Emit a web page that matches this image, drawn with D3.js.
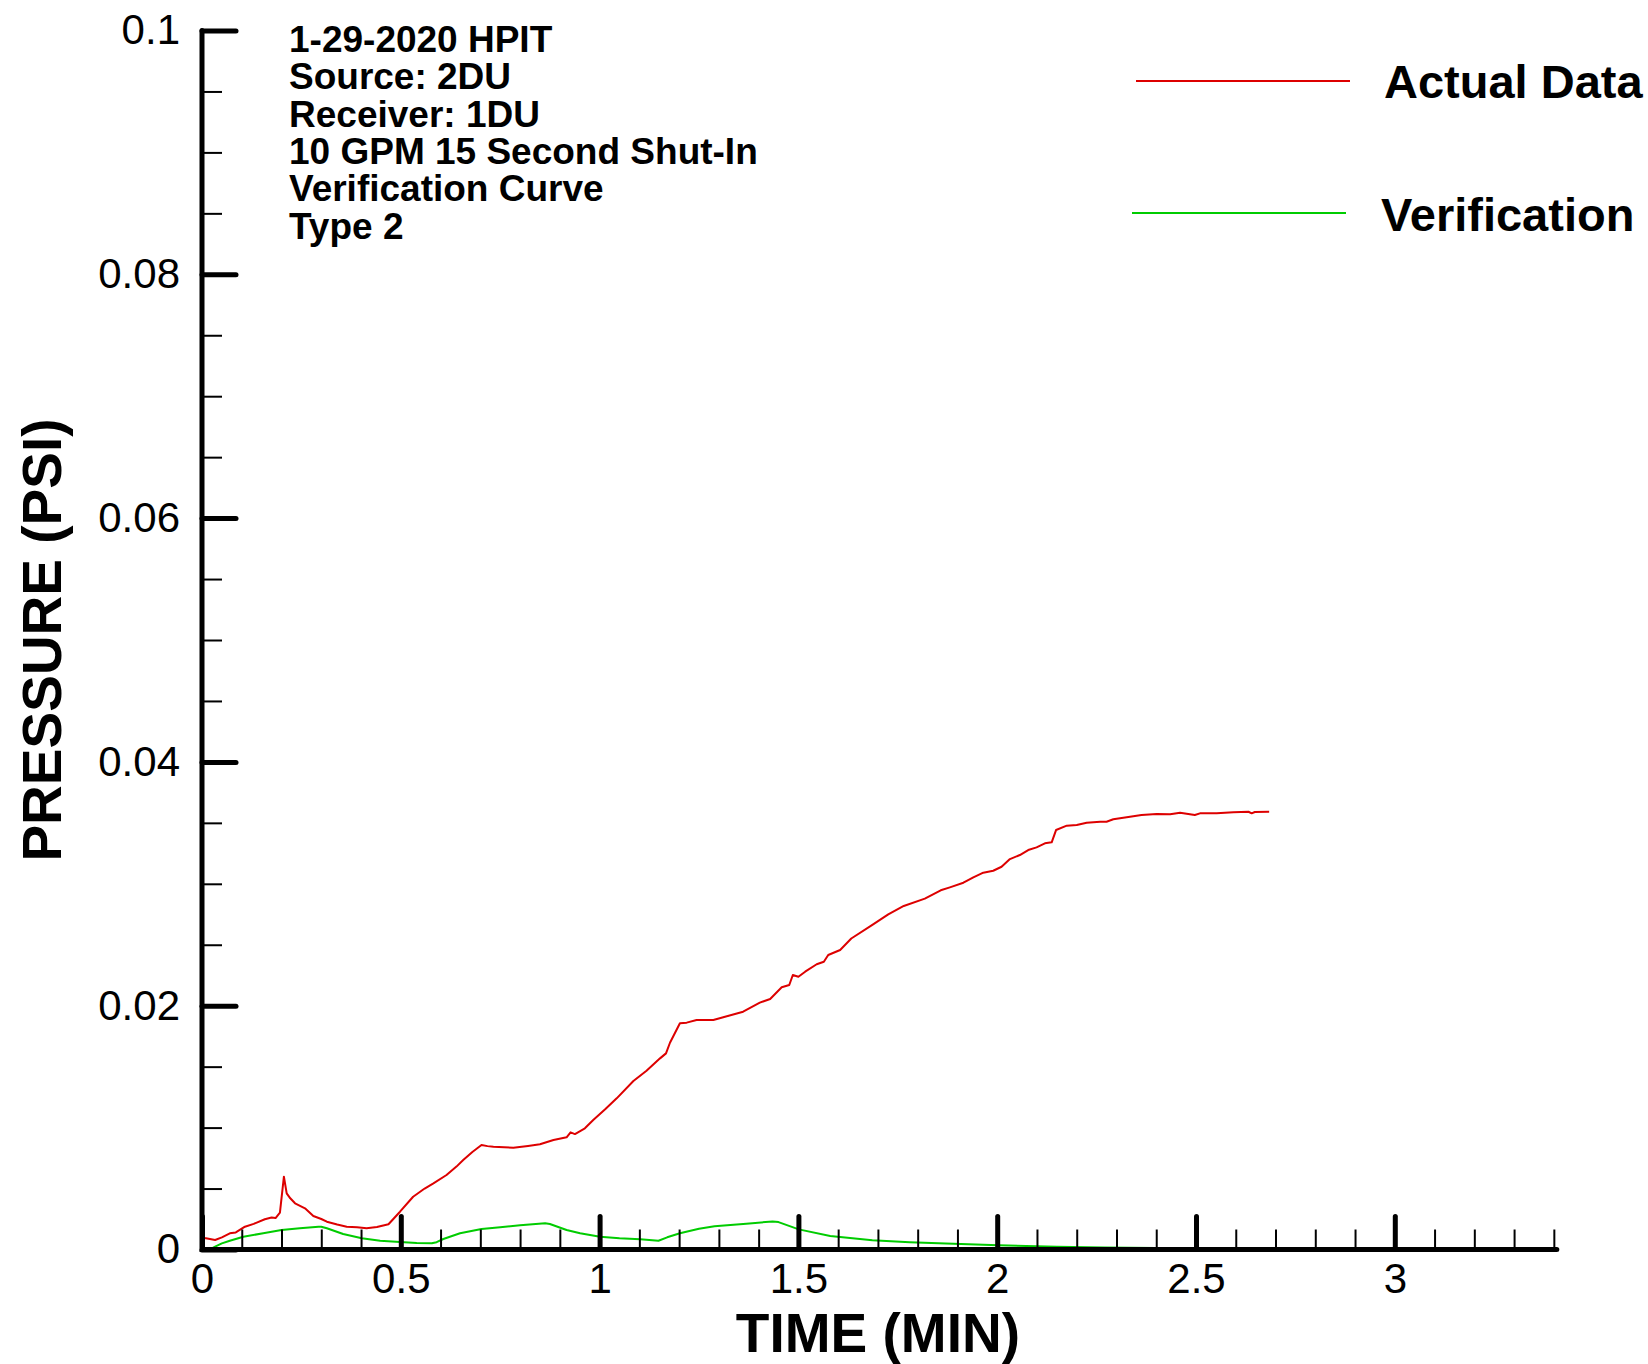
<!DOCTYPE html>
<html>
<head>
<meta charset="utf-8">
<style>
	body { margin: 0; background: #fff; }
	svg { display: block; }
	text { font-family: "Liberation Sans", Arial, sans-serif; fill: #000; }
	.axis-line { stroke: #000; stroke-width: 5; stroke-linecap: round; fill: none; }
	.major .tick line { stroke: #000; stroke-width: 5; stroke-linecap: round; }
	.minor .tick line { stroke: #000; stroke-width: 2; }
	.axis .tick text { font-size: 42px; }
	.series { fill: none; stroke-width: 2; stroke-linejoin: round; }
	.title { font-size: 55px; font-weight: bold; }
	.note { font-size: 37px; font-weight: bold; }
	.legend text { font-size: 47px; font-weight: bold; }
</style>
</head>
<body>
<div id="chart"></div>
<script src="https://cdn.jsdelivr.net/npm/d3@7"></script>
<script>

	// measured traces (time in minutes, pressure in psi)
	const actualTime = [
		0.000, 0.010, 0.033, 0.050, 0.070, 0.085, 0.108, 0.130, 0.158, 0.175,
		0.185, 0.196, 0.206, 0.213, 0.222, 0.234, 0.259, 0.280, 0.300, 0.314,
		0.340, 0.364, 0.390, 0.414, 0.440, 0.469, 0.498, 0.531, 0.560, 0.582,
		0.615, 0.640, 0.657, 0.680, 0.703, 0.718, 0.733, 0.760, 0.783, 0.820,
		0.850, 0.884, 0.917, 0.927, 0.938, 0.963, 0.984, 1.014, 1.043, 1.085,
		1.118, 1.152, 1.167, 1.177, 1.202, 1.219, 1.244, 1.286, 1.311, 1.361,
		1.403, 1.429, 1.458, 1.477, 1.486, 1.500, 1.517, 1.546, 1.564, 1.575,
		1.605, 1.633, 1.686, 1.726, 1.765, 1.818, 1.858, 1.881, 1.915, 1.940,
		1.965, 1.990, 2.011, 2.032, 2.057, 2.078, 2.099, 2.120, 2.137, 2.148,
		2.175, 2.200, 2.225, 2.259, 2.275, 2.292, 2.334, 2.363, 2.401, 2.435,
		2.460, 2.497, 2.510, 2.552, 2.594, 2.632, 2.640, 2.648, 2.684
	];
	const actualPsi = [
		0.00094, 0.00092, 0.00078, 0.00100, 0.00133, 0.00140, 0.00187, 0.00210, 0.00248, 0.00262,
		0.00258, 0.00302, 0.00597, 0.00461, 0.00420, 0.00379, 0.00338, 0.00275, 0.00250, 0.00228,
		0.00205, 0.00187, 0.00182, 0.00174, 0.00185, 0.00207, 0.00310, 0.00433, 0.00500, 0.00543,
		0.00611, 0.00680, 0.00734, 0.00800, 0.00857, 0.00848, 0.00843, 0.00838, 0.00835, 0.00850,
		0.00863, 0.00898, 0.00920, 0.00961, 0.00947, 0.00994, 0.01062, 0.01150, 0.01240, 0.01382,
		0.01467, 0.01568, 0.01609, 0.01696, 0.01856, 0.01861, 0.01883, 0.01883, 0.01905, 0.01951,
		0.02025, 0.02055, 0.02151, 0.02170, 0.02252, 0.02238, 0.02279, 0.02340, 0.02361, 0.02416,
		0.02457, 0.02551, 0.02663, 0.02749, 0.02818, 0.02878, 0.02947, 0.02971, 0.03009, 0.03053,
		0.03091, 0.03107, 0.03140, 0.03203, 0.03236, 0.03277, 0.03299, 0.03332, 0.03340, 0.03441,
		0.03477, 0.03482, 0.03501, 0.03509, 0.03509, 0.03529, 0.03550, 0.03564, 0.03573, 0.03570,
		0.03583, 0.03564, 0.03578, 0.03578, 0.03587, 0.03591, 0.03578, 0.03589, 0.03591
	];

	const verifTime = [
		0.020, 0.033, 0.050, 0.070, 0.104, 0.154, 0.200, 0.246, 0.293, 0.300,
		0.314, 0.355, 0.402, 0.448, 0.498, 0.540, 0.578, 0.590, 0.607, 0.649,
		0.703, 0.750, 0.800, 0.863, 0.875, 0.917, 0.951, 1.001, 1.050, 1.102,
		1.148, 1.170, 1.202, 1.250, 1.289, 1.369, 1.435, 1.450, 1.501, 1.580,
		1.686, 1.780, 1.871, 2.003, 2.150, 2.270, 2.400, 2.500, 2.600, 2.684
	];
	const verifPsi = [
		0.00000, 0.00023, 0.00050, 0.00072, 0.00105, 0.00133, 0.00160, 0.00174, 0.00187, 0.00187,
		0.00174, 0.00127, 0.00092, 0.00072, 0.00062, 0.00053, 0.00051, 0.00060, 0.00086, 0.00133,
		0.00168, 0.00182, 0.00199, 0.00215, 0.00209, 0.00160, 0.00133, 0.00105, 0.00092, 0.00084,
		0.00072, 0.00100, 0.00133, 0.00170, 0.00190, 0.00212, 0.00230, 0.00225, 0.00165, 0.00111,
		0.00076, 0.00060, 0.00050, 0.00035, 0.00023, 0.00017, 0.00012, 0.00010, 0.00007, 0.00005
	];

	const seriesNames = [ "Actual Data", "Verification" ];
	const seriesColors = [ "#dd0000", "#00cc00" ];

	const xMajorTicks = [ 0, 0.5, 1, 1.5, 2, 2.5, 3 ];
	const yMajorTicks = [ 0, 0.02, 0.04, 0.06, 0.08, 0.1 ];

	const noteLines = [
		"1-29-2020 HPIT",
		"Source: 2DU",
		"Receiver: 1DU",
		"10 GPM 15 Second Shut-In",
		"Verification Curve",
		"Type 2"
	];

	const width = 1648;
	const height = 1364;
	const majorTick = 34;
	const minorTick = 20;

	const x = d3.scaleLinear()
				.domain([0, 3.4])
				.range([202, 202 + 3.4 * 397.6]);

	const y = d3.scaleLinear()
				.domain([0, 0.1])
				.range([1249.5, 30.5]);

	const svg = d3.select("#chart")
				.append("svg")
					.attr("width", width)
					.attr("height", height);

	// series first so the thick axes sit on top
	const series = [
		actualTime.map((t, i) => [t, actualPsi[i]]),
		verifTime.map((t, i) => [t, verifPsi[i]])
	];

	const line = d3.line()
				.x((d) => x(d[0]))
				.y((d) => y(d[1]));

	svg.selectAll(".series")
			.data(series).enter()
		.append("path")
			.attr("class", "series")
			.attr("stroke", (d, i) => seriesColors[i])
			.attr("d", line);

	// minor ticks, every 0.1 min and 0.005 psi
	const xMinor = d3.range(1, 35).map((i) => i / 10).filter((v) => Math.abs(v * 2 - Math.round(v * 2)) > 1e-6);
	const yMinor = d3.range(1, 20).filter((i) => i % 4 !== 0).map((i) => i * 0.005);

	svg.append("g")
			.attr("class", "axis minor")
			.attr("transform", `translate(0, ${y(0)})`)
			.call(d3.axisBottom(x).tickValues(xMinor).tickSizeInner(-minorTick).tickSizeOuter(0).tickFormat(""))
			.call((g) => g.select(".domain").remove());

	svg.append("g")
			.attr("class", "axis minor")
			.attr("transform", `translate(${x(0)}, 0)`)
			.call(d3.axisLeft(y).tickValues(yMinor).tickSizeInner(-minorTick).tickSizeOuter(0).tickFormat(""))
			.call((g) => g.select(".domain").remove());

	svg.append("g")
			.attr("class", "axis major")
			.attr("transform", `translate(0, ${y(0)})`)
			.call(d3.axisBottom(x).tickValues(xMajorTicks).tickSizeInner(-33).tickSizeOuter(0)
					.tickPadding(14).tickFormat(d3.format("~g")))
			.call((g) => g.select(".domain").remove());

	svg.append("g")
			.attr("class", "axis major")
			.attr("transform", `translate(${x(0)}, 0)`)
			.call(d3.axisLeft(y).tickValues(yMajorTicks).tickSizeInner(-majorTick).tickSizeOuter(0)
					.tickPadding(22).tickFormat(d3.format("~g")))
			.call((g) => g.select(".domain").remove());

	// axis frame (left and bottom)
	svg.append("path")
			.attr("class", "axis-line")
			.attr("d", `M${x(0)},${y(0.1)}V${y(0)}H${x(3.4) + 3}`);

	// axis titles
	svg.append("text")
			.attr("class", "title")
			.attr("text-anchor", "middle")
			.attr("x", (x(0) + x(3.4)) / 2)
			.attr("y", 1352)
			.text("TIME (MIN)");

	svg.append("text")
			.attr("class", "title")
			.attr("text-anchor", "middle")
			.attr("transform", `translate(61, ${(y(0) + y(0.1)) / 2}) rotate(-90)`)
			.text("PRESSURE (PSI)");

	// annotation block
	svg.append("g")
			.attr("class", "note")
		.selectAll("text")
			.data(noteLines).enter()
		.append("text")
			.attr("x", 289)
			.attr("y", (d, i) => 52 + i * 37.3)
			.text((d) => d);

	// legend
	const legendRows = [
		{ x1: 1136, x2: 1350, lineY: 81, textX: 1384, textY: 98 },
		{ x1: 1132, x2: 1346, lineY: 213, textX: 1381, textY: 231 }
	];

	const legend = svg.append("g")
					.attr("class", "legend")
				.selectAll("g")
					.data(seriesNames).enter()
				.append("g");

	legend.append("line")
			.attr("x1", (d, i) => legendRows[i].x1)
			.attr("x2", (d, i) => legendRows[i].x2)
			.attr("y1", (d, i) => legendRows[i].lineY)
			.attr("y2", (d, i) => legendRows[i].lineY)
			.attr("stroke", (d, i) => seriesColors[i])
			.attr("stroke-width", 2);

	legend.append("text")
			.attr("x", (d, i) => legendRows[i].textX)
			.attr("y", (d, i) => legendRows[i].textY)
			.text((d) => d);

</script>
</body>
</html>
